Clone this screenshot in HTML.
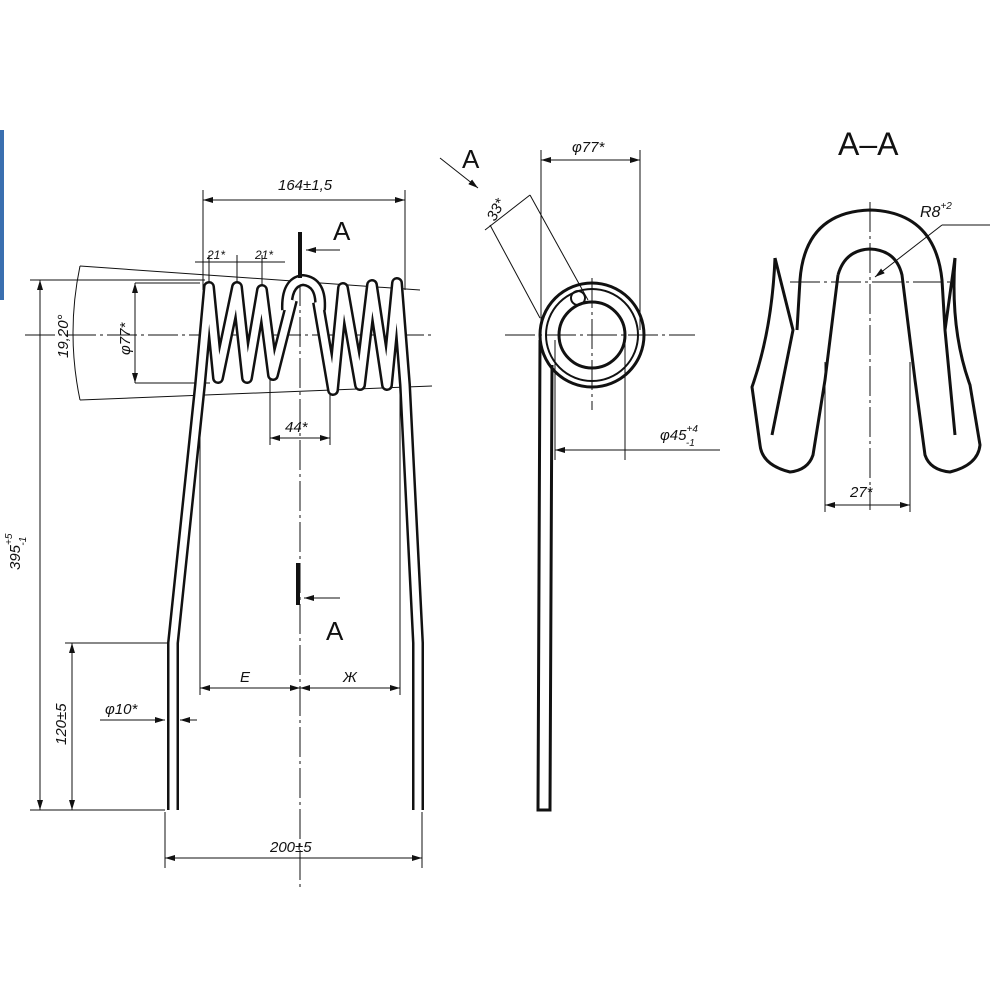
<!DOCTYPE html>
<html><head><meta charset="utf-8"><style>
html,body{margin:0;padding:0;background:#fff}
svg{display:block}
text{font-family:"Liberation Sans",sans-serif;font-style:italic;fill:#111}
</style></head><body>
<svg width="1000" height="1000" viewBox="0 0 1000 1000" xmlns="http://www.w3.org/2000/svg">
<defs>
<marker id="ar" viewBox="0 0 10 6" refX="10" refY="3" markerWidth="10" markerHeight="6" orient="auto-start-reverse"><path d="M0,0 L10,3 L0,6 z" fill="#111"/></marker>
</defs>
<rect x="0" y="130" width="4" height="170" fill="#3a6fb0"/>
<g stroke="#111" fill="none" stroke-width="1">
<!-- thin construction lines main view -->
<line x1="25" y1="335" x2="435" y2="335" stroke-dasharray="30,4,3,4"/>
<line x1="300" y1="235" x2="300" y2="890" stroke-dasharray="30,4,3,4"/>
<line x1="80" y1="266" x2="420" y2="290"/>
<line x1="80" y1="400" x2="432" y2="386"/>
<path d="M80,266 Q66,333 80,400"/>
<line x1="203" y1="190" x2="203" y2="290"/><line x1="405" y1="190" x2="405" y2="290"/>
<line x1="203" y1="200" x2="405" y2="200" marker-start="url(#ar)" marker-end="url(#ar)"/>
<line x1="195" y1="262" x2="285" y2="262"/>
<line x1="209" y1="255" x2="209" y2="288"/><line x1="237" y1="255" x2="237" y2="288"/><line x1="262" y1="255" x2="262" y2="290"/>
<line x1="135" y1="283" x2="200" y2="283"/><line x1="135" y1="383" x2="210" y2="383"/>
<line x1="135" y1="283" x2="135" y2="383" marker-start="url(#ar)" marker-end="url(#ar)"/>
<line x1="30" y1="280" x2="205" y2="280"/>
<line x1="40" y1="280" x2="40" y2="810" marker-start="url(#ar)" marker-end="url(#ar)"/>
<line x1="30" y1="810" x2="165" y2="810"/>
<line x1="65" y1="643" x2="175" y2="643"/>
<line x1="72" y1="643" x2="72" y2="810" marker-start="url(#ar)" marker-end="url(#ar)"/>
<line x1="270" y1="378" x2="270" y2="445"/><line x1="330" y1="392" x2="330" y2="445"/>
<line x1="270" y1="438" x2="330" y2="438" marker-start="url(#ar)" marker-end="url(#ar)"/>
<line x1="200" y1="385" x2="200" y2="695"/><line x1="400" y1="385" x2="400" y2="695"/>
<line x1="200" y1="688" x2="300" y2="688" marker-start="url(#ar)" marker-end="url(#ar)"/>
<line x1="300" y1="688" x2="400" y2="688" marker-start="url(#ar)" marker-end="url(#ar)"/>
<line x1="100" y1="720" x2="165" y2="720" marker-end="url(#ar)"/>
<line x1="197" y1="720" x2="180" y2="720" marker-end="url(#ar)"/>
<line x1="165" y1="812" x2="165" y2="868"/><line x1="422" y1="812" x2="422" y2="868"/>
<line x1="165" y1="858" x2="422" y2="858" marker-start="url(#ar)" marker-end="url(#ar)"/>
<line x1="340" y1="250" x2="306" y2="250" marker-end="url(#ar)"/>
<line x1="340" y1="598" x2="304" y2="598" marker-end="url(#ar)"/>
<!-- side view lines -->
<line x1="505" y1="335" x2="695" y2="335" stroke-dasharray="30,4,3,4"/>
<line x1="592" y1="278" x2="592" y2="410" stroke-dasharray="30,4,3,4"/>
<line x1="541" y1="150" x2="541" y2="330"/><line x1="640" y1="150" x2="640" y2="330"/>
<line x1="541" y1="160" x2="640" y2="160" marker-start="url(#ar)" marker-end="url(#ar)"/>
<line x1="555" y1="340" x2="555" y2="460"/><line x1="625" y1="340" x2="625" y2="460"/>
<line x1="555" y1="450" x2="720" y2="450" marker-start="url(#ar)"/>
<line x1="625" y1="450" x2="625" y2="450" />
<line x1="485" y1="230" x2="530" y2="195"/><line x1="530" y1="195" x2="588" y2="300"/>
<line x1="490" y1="225" x2="540" y2="318"/>
<line x1="440" y1="158" x2="478" y2="188" marker-end="url(#ar)"/>
<!-- A-A lines -->
<line x1="790" y1="282" x2="955" y2="282" stroke-dasharray="30,4,3,4"/>
<line x1="870" y1="202" x2="870" y2="510" stroke-dasharray="30,4,3,4"/>
<line x1="825" y1="362" x2="825" y2="512"/><line x1="910" y1="362" x2="910" y2="512"/>
<line x1="825" y1="505" x2="910" y2="505" marker-start="url(#ar)" marker-end="url(#ar)"/>
<line x1="990" y1="225" x2="942" y2="225"/>
<line x1="942" y1="225" x2="875" y2="277" marker-end="url(#ar)"/>
</g>
<!-- wires main view -->
<g fill="none" stroke-linejoin="round" stroke-linecap="butt">
<path id="w" d="M173,810 L173,643 L200,385 L209,287 L218,378 L237,287 L247,378 L262,290 L273,375 L292,300"/>
<path id="w2" d="M418,810 L418,643 L405,385 L397,283 L387,385 L372,285 L360,385 L343,288 L333,390 L318,302"/>
</g>
<g fill="none" stroke="#111" stroke-width="12" stroke-linejoin="round">
<use href="#w"/><use href="#w2"/>
<path d="M287,310 Q286,282 303,280 Q322,282 320,310"/>
</g>
<g fill="none" stroke="#fff" stroke-width="7" stroke-linejoin="round">
<use href="#w"/><use href="#w2"/>
<path d="M287,310 Q286,282 303,280 Q322,282 320,310"/>
</g>
<line x1="300" y1="232" x2="300" y2="278" stroke="#111" stroke-width="4"/>
<line x1="298" y1="563" x2="298" y2="605" stroke="#111" stroke-width="4"/>
<!-- side view -->
<g fill="none" stroke="#111">
<circle cx="592" cy="335" r="52" stroke-width="3"/>
<circle cx="592" cy="335" r="46" stroke-width="2"/>
<circle cx="592" cy="335" r="33" stroke-width="3"/>
<path d="M540,340 L538,810 L550,810 L552,365" stroke-width="3"/>
<circle cx="578" cy="298" r="7" stroke-width="2"/>
</g>
<!-- A-A section -->
<g fill="none" stroke="#111" stroke-width="3" stroke-linejoin="round">
<path d="M797,330 L800,280 Q805,212 870,210 Q935,212 942,280 L945,330"/>
<path d="M838,275 Q845,250 870,249 Q896,250 902,275 L915,380 L925,455 Q930,470 950,472 Q978,465 980,445 L970,385 Q950,330 955,258"/>
<path d="M838,275 L825,380 L813,455 Q808,470 790,472 Q762,465 760,445 L752,387 Q772,330 775,258"/>
<path d="M775,258 L793,330 L772,435"/>
<path d="M955,258 L945,330 L955,435"/>
</g>
<!-- text -->
<text x="278" y="190" font-size="15">164±1,5</text>
<text x="207" y="259" font-size="12">21*</text>
<text x="255" y="259" font-size="12">21*</text>
<text x="333" y="240" font-size="26" style="font-style:normal">A</text>
<text x="326" y="640" font-size="26" style="font-style:normal">A</text>
<text x="462" y="168" font-size="26" style="font-style:normal">A</text>
<text x="838" y="155" font-size="32" style="font-style:normal">A–A</text>
<text transform="translate(68,358) rotate(-90)" font-size="15">19,20°</text>
<text transform="translate(130,355) rotate(-90)" font-size="15">φ77*</text>
<text transform="translate(20,570) rotate(-90)" font-size="15">395<tspan dy="-8" font-size="10">+5</tspan><tspan dy="14" dx="-12" font-size="10">-1</tspan></text>
<text transform="translate(66,745) rotate(-90)" font-size="15">120±5</text>
<text x="285" y="432" font-size="15">44*</text>
<text x="240" y="682" font-size="15">E</text>
<text x="343" y="682" font-size="15">Ж</text>
<text x="105" y="714" font-size="15">φ10*</text>
<text x="270" y="852" font-size="15">200±5</text>
<text x="572" y="152" font-size="15">φ77*</text>
<text transform="translate(495,222) rotate(-62)" font-size="15">33*</text>
<text x="660" y="440" font-size="15">φ45<tspan dy="-8" font-size="10">+4</tspan><tspan dy="14" dx="-12" font-size="10">-1</tspan></text>
<text x="920" y="217" font-size="16">R8<tspan dy="-8" font-size="10">+2</tspan></text>
<text x="850" y="497" font-size="15">27*</text>
</svg>
</body></html>
